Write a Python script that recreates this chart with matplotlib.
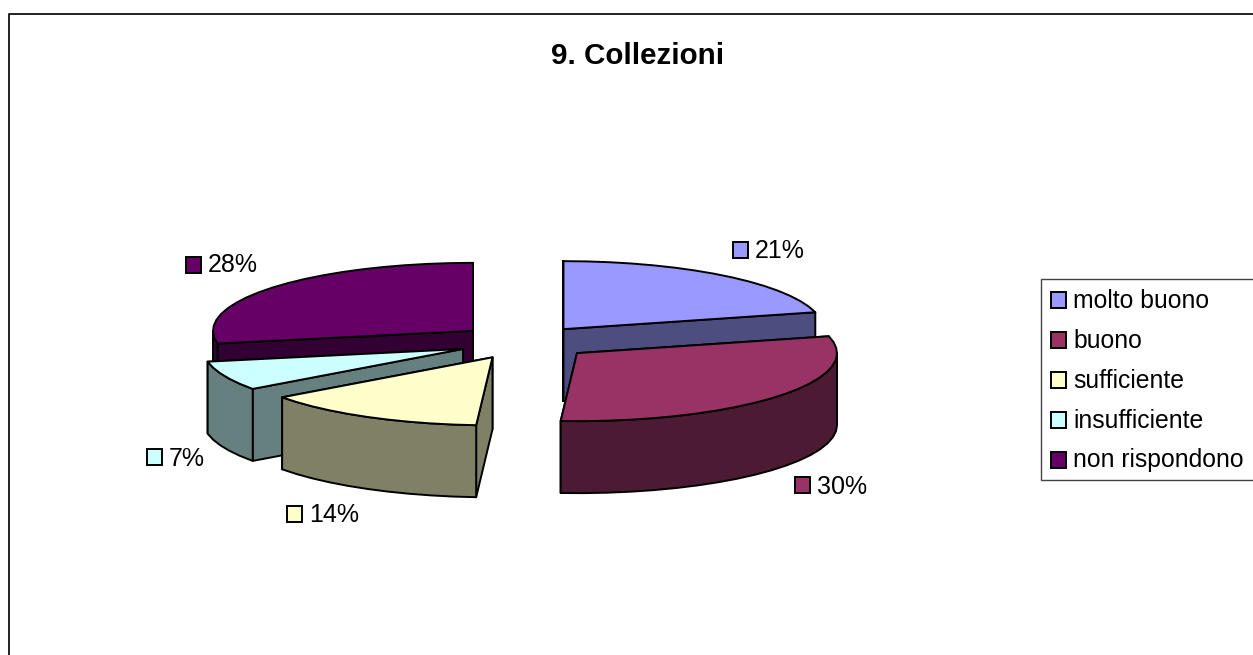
"""Torta 3D esplosa: 9. Collezioni"""
from __future__ import annotations

import matplotlib.pyplot as plt
import numpy as np
from matplotlib.patches import Polygon, Rectangle

plt.rcParams["font.family"] = ["Liberation Sans", "DejaVu Sans"]

TITLE = "9. Collezioni"
CATEGORIES = ["molto buono", "buono", "sufficiente", "insufficiente", "non rispondono"]
VALUES = [21, 30, 14, 7, 28]

COLORS = ["#9999FF", "#993366", "#FFFFCC", "#CCFFFF", "#660066"]
WALL_COLORS = ["#4D4D80", "#4D1A33", "#808066", "#668080", "#330033"]

# posizioni in pixel dell'immagine
CENTER = (525, 342)
RX, RY = 260, 68
DEPTH = 72
EXPLODE_X, EXPLODE_Y = 67.5, 17.5
EXPLODE = [0.93, 1.0, 1.0, 1.0, 1.0]
LABEL_BOX = [(740, 250), (802, 485), (294, 514), (154, 457), (193, 265)]
LABEL_Y_SHIFT = [-2, -1, -1, 0, -2]
LW = 1.4


def rim(cx, cy, a0, a1, dy=0.0):
    n = max(int(abs(a1 - a0) / 5), 1) + 1
    t = np.radians(np.linspace(a0, a1, n))
    return np.column_stack([cx + RX * np.sin(t), cy - RY * np.cos(t) + dy])


def face(ax, pts, color):
    ax.add_patch(Polygon(pts, closed=True, facecolor=color, edgecolor="black",
                         linewidth=LW, joinstyle="round"))


def draw_slice(ax, a0, a1, color, wall, explode):
    mid = np.radians((a0 + a1) / 2)
    cx = CENTER[0] + explode * EXPLODE_X * np.sin(mid)
    cy = CENTER[1] - explode * EXPLODE_Y * np.cos(mid)
    # facce radiali, prima quella con angolo maggiore
    for a in (a1, a0):
        p = rim(cx, cy, a, a, 0)[0]
        face(ax, [(cx, cy), p, (p[0], p[1] + DEPTH), (cx, cy + DEPTH)], wall)
    # parete esterna, solo la parte davanti
    w0, w1 = max(a0, 90), min(a1, 270)
    if w0 < w1:
        top = rim(cx, cy, w0, w1)
        bottom = rim(cx, cy, w1, w0, DEPTH)
        face(ax, np.vstack([top, bottom]), wall)
    # faccia superiore
    face(ax, np.vstack([[(cx, cy)], rim(cx, cy, a0, a1)]), color)


def square(ax, x, y, color):
    ax.add_patch(Rectangle((x - 7.5, y - 8), 15, 16, facecolor=color,
                           edgecolor="black", linewidth=LW))


def plot(out_path: str = "out.png") -> None:
    fig = plt.figure(figsize=(12.53, 6.55), dpi=100)
    ax = fig.add_axes([0, 0, 1, 1])
    ax.set_xlim(0, 1253)
    ax.set_ylim(655, 0)
    ax.axis("off")

    # cornice esterna
    ax.plot([8.5, 8.5, 1253], [655, 13.5, 13.5], color="#222222", lw=1.4)

    ax.text(638, 56, TITLE, fontsize=21.3, fontweight="bold", ha="center", va="center")

    total = sum(VALUES)
    edges = np.concatenate([[0], np.cumsum(VALUES)]) / total * 360
    # dal fondo verso il davanti
    order = sorted(range(len(VALUES)),
                   key=lambda i: -np.cos(np.radians((edges[i] + edges[i + 1]) / 2)))
    for i in order:
        draw_slice(ax, edges[i], edges[i + 1], COLORS[i], WALL_COLORS[i], EXPLODE[i])

    for i, (x, y) in enumerate(LABEL_BOX):
        square(ax, x, y, COLORS[i])
        ax.text(x + 15, y + LABEL_Y_SHIFT[i], f"{VALUES[i] / total:.0%}",
                fontsize=18, ha="left", va="center_baseline")

    # legenda
    ax.add_patch(Rectangle((1040.5, 278.5), 230, 201.5, facecolor="white",
                           edgecolor="#444444", linewidth=1.0, clip_on=True))
    for i, name in enumerate(CATEGORIES):
        y = 300 + 40 * i
        square(ax, 1058, y, COLORS[i])
        ax.text(1073, y - 2, name, fontsize=17.8, ha="left", va="center_baseline")

    fig.savefig(out_path, dpi=100)
    plt.close(fig)


if __name__ == "__main__":
    plot()
